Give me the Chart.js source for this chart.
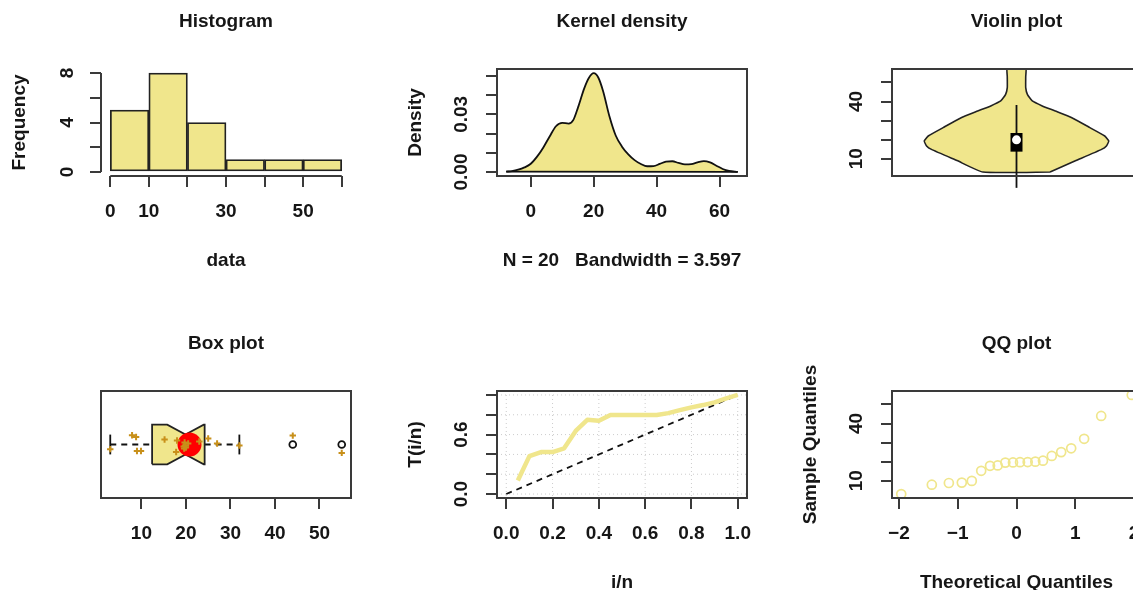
<!DOCTYPE html>
<html>
<head>
<meta charset="utf-8">
<script src="https://cdn.jsdelivr.net/npm/chart.js@4.4.1/dist/chart.umd.min.js"></script>
<style>
  html, body { margin: 0; padding: 0; background: #fff; overflow: hidden; }
  body { width: 1133px; height: 590px; position: relative; }
  canvas { position: absolute; left: 0; top: 0; }
</style>
</head>
<body>
<canvas id="histograma" width="1160" height="590"></canvas>
<canvas id="densidad" width="1160" height="590"></canvas>
<canvas id="violin" width="1160" height="590"></canvas>
<canvas id="cajas" width="1160" height="590"></canvas>
<canvas id="ttt" width="1160" height="590"></canvas>
<canvas id="qq" width="1160" height="590"></canvas>
<script>
// valores
const muestra = [3, 7.9, 8.8, 9, 9.9, 15.2, 17.8, 18, 19.5, 19.6, 19.7, 19.8, 20, 20.5, 23, 25, 27, 32, 44, 55];
const qqTeorico = [-1.96, -1.44, -1.15, -0.93, -0.76, -0.6, -0.45, -0.32, -0.19, -0.06, 0.06, 0.19, 0.32, 0.45, 0.6, 0.76, 0.93, 1.15, 1.44, 1.96];

const histBreaks = [0, 10, 20, 30, 40, 50, 60];
const histCounts = [5, 8, 4, 1, 1, 1];

const densX = [-7.8, -6, -4, -2, 0, 2, 4, 6, 8, 10, 12, 13.5, 15, 17, 18.5, 20, 21.5, 23, 25, 27, 29, 31, 33, 35, 37, 39, 41, 43, 45, 47, 49, 51, 53, 55, 57, 59, 61, 63, 65.8];
const densY = [0.0002, 0.0005, 0.0012, 0.0024, 0.0043, 0.008, 0.0128, 0.0185, 0.0238, 0.0256, 0.0252, 0.027, 0.0335, 0.0435, 0.049, 0.0514, 0.049, 0.042, 0.029, 0.019, 0.0132, 0.0092, 0.0062, 0.0042, 0.003, 0.0031, 0.0042, 0.0054, 0.0056, 0.0047, 0.004, 0.0041, 0.005, 0.0057, 0.005, 0.0033, 0.0016, 0.0006, 0.0001];

// violin: niveles y densidad relativa (1 = ancho maximo)
const violinNiveles = [3, 9, 14.9, 16.7, 19.3, 21.9, 26.3, 31.5, 35, 37.7, 40.3, 43.8, 47.3, 53, 58];
const violinDens = [0.364, 0.645, 0.922, 0.975, 1, 0.957, 0.796, 0.6, 0.421, 0.279, 0.171, 0.118, 0.1, 0.1, 0.1];
const violinCaja = [13.7, 23.5];
const violinMediana = 19.9;
const violinBigote = [-5.3, 38.2];

// boxplot: min, q1, mediana, q3, max
const cincoNum = [3, 12.4, 19.9, 24.2, 32];
const muesca = [15.8, 24.0];
const atipicos = [44, 55];
const media = 20.8;
const jitterY = [0.953, 1.093, 1.076, 0.935, 0.935, 1.05, 0.925, 1.04, 0.98, 0.96, 1.02, 0.99, 0.97, 1.01, 1.03, 1.06, 1.01, 0.99, 1.09, 0.915];

const tttX = [0.05, 0.1, 0.15, 0.2, 0.25, 0.3, 0.35, 0.4, 0.45, 0.5, 0.55, 0.6, 0.65, 0.7, 0.75, 0.8, 0.85, 0.9, 0.95, 1];
const tttY = [0.136, 0.383, 0.424, 0.424, 0.461, 0.637, 0.749, 0.739, 0.797, 0.797, 0.797, 0.797, 0.797, 0.817, 0.847, 0.875, 0.898, 0.925, 0.966, 1];

// ticks y etiquetas
const histXTicks = [0, 10, 20, 30, 40, 50, 60];
const histXLabels = ['0', '10', '', '30', '', '50', ''];
const histYTicks = [0, 2, 4, 6, 8];
const histYLabels = ['0', '', '4', '', '8'];
const densXTicks = [0, 20, 40, 60];
const densXLabels = ['0', '20', '40', '60'];
const densYTicks = [0, 0.01, 0.02, 0.03, 0.04, 0.05];
const densYLabels = ['0.00', '', '', '0.03', '', ''];
const cuantilTicks = [10, 20, 30, 40, 50];
const cuantilLabels = ['10', '', '', '40', ''];
const cajaXTicks = [10, 20, 30, 40, 50];
const cajaXLabels = ['10', '20', '30', '40', '50'];
const tttTicks = [0, 0.2, 0.4, 0.6, 0.8, 1];
const tttXLabels = ['0.0', '0.2', '0.4', '0.6', '0.8', '1.0'];
const tttYLabels = ['0.0', '', '', '0.6', '', ''];
const qqXTicks = [-2, -1, 0, 1, 2];
const qqXLabels = ['\u22122', '\u22121', '0', '1', '2'];

const AMARILLO = '#F0E68C';
const ORO = '#C8901A';
const LINEA = '#3a3a3a';
const TEXTO = '#161616';
const FUENTE = '"Liberation Sans", Arial, sans-serif';

const W = 1160, H = 590, TICK = 11;
const filas = [{top: 69, bottom: 176}, {top: 391, bottom: 498}];
const cols = [{left: 101, right: 351}, {left: 497, right: 747}, {left: 892, right: 1141}];

function padding(c, f, conX, conY) {
    return {
        left: cols[c].left - (conY ? TICK : 0),
        right: W - cols[c].right,
        top: filas[f].top,
        bottom: H - filas[f].bottom - (conX ? TICK : 0)
    };
}

function eje(min, max, ticks, mostrar) {
    return {
        type: 'linear', min, max, display: mostrar, offset: false,
        afterBuildTicks: (s) => { s.ticks = ticks.map(v => ({value: v})); },
        ticks: {display: false},
        grid: {display: true, offset: false, drawOnChartArea: false, drawTicks: true, tickLength: TICK, color: LINEA, lineWidth: 2},
        border: {display: false}
    };
}

function vertical(ctx, txt, x, y) {
    ctx.save();
    ctx.translate(x, y);
    ctx.rotate(-Math.PI / 2);
    ctx.fillText(txt, 0, 0);
    ctx.restore();
}

// ejes, caja y textos al estilo de R
const rEstilo = {
    id: 'rEstilo',
    beforeDatasetsDraw(chart, args, o) {
        if (!o.rejilla) return;
        const {ctx, chartArea: a, scales} = chart;
        ctx.save();
        ctx.strokeStyle = '#cccccc';
        ctx.lineWidth = 1;
        ctx.setLineDash([1, 3]);
        ctx.beginPath();
        o.rejilla.forEach(v => {
            const px = scales.x.getPixelForValue(v), py = scales.y.getPixelForValue(v);
            ctx.moveTo(px, a.top); ctx.lineTo(px, a.bottom);
            ctx.moveTo(a.left, py); ctx.lineTo(a.right, py);
        });
        ctx.stroke();
        ctx.restore();
    },
    afterDraw(chart, args, o) {
        const {ctx, chartArea: a, scales: {x, y}} = chart;
        ctx.save();
        ctx.strokeStyle = LINEA;
        ctx.lineWidth = 2;
        ctx.beginPath();
        if (o.caja) ctx.rect(a.left, a.top, a.right - a.left, a.bottom - a.top);
        if (x.options.display) {
            ctx.moveTo(x.getPixelForValue(x.ticks[0].value), a.bottom);
            ctx.lineTo(x.getPixelForValue(x.ticks[x.ticks.length - 1].value), a.bottom);
        }
        if (y.options.display) {
            ctx.moveTo(a.left, y.getPixelForValue(y.ticks[0].value));
            ctx.lineTo(a.left, y.getPixelForValue(y.ticks[y.ticks.length - 1].value));
        }
        ctx.stroke();

        ctx.fillStyle = TEXTO;
        ctx.textAlign = 'center';
        ctx.textBaseline = 'middle';
        ctx.font = 'bold 19px ' + FUENTE;
        if (o.xEt) o.xEt.v.forEach((v, i) => ctx.fillText(o.xEt.t[i], x.getPixelForValue(v), a.bottom + 36));
        if (o.yEt) o.yEt.v.forEach((v, i) => vertical(ctx, o.yEt.t[i], a.left - (o.yGap || 35), y.getPixelForValue(v)));
        const cx = (a.left + a.right) / 2, cy = (a.top + a.bottom) / 2;
        if (o.titulo) ctx.fillText(o.titulo, cx, a.top - 47);
        if (o.xTitulo) ctx.fillText(o.xTitulo, cx, a.bottom + 84.5);
        if (o.yTitulo) vertical(ctx, o.yTitulo, a.left - 81, cy);
        ctx.restore();
    }
};
Chart.register(rEstilo);

function opciones(pad, scales, r) {
    return {
        responsive: false, animation: false, devicePixelRatio: 1, events: [],
        layout: {padding: pad},
        scales,
        plugins: {legend: {display: false}, tooltip: {enabled: false}, rEstilo: r}
    };
}

function segmento(puntos, ancho, extra) {
    return Object.assign({data: puntos, showLine: true, pointRadius: 0, borderColor: '#111', borderWidth: ancho, fill: false}, extra || {});
}

// ---------------- Histograma
new Chart(document.getElementById('histograma'), {
    type: 'bar',
    data: {
        datasets: [{
            data: histCounts.map((c, i) => ({x: (histBreaks[i] + histBreaks[i + 1]) / 2, y: c})),
            backgroundColor: AMARILLO, borderColor: '#222', borderWidth: 1.8, borderSkipped: false,
            barPercentage: 1, categoryPercentage: 1
        }]
    },
    options: opciones(padding(0, 0, true, true),
        {x: eje(-2.4, 62.4, histXTicks, true), y: eje(-0.32, 8.32, histYTicks, true)},
        {titulo: 'Histogram', xTitulo: 'data', yTitulo: 'Frequency', yGap: 33,
         xEt: {v: histXTicks, t: histXLabels}, yEt: {v: histYTicks, t: histYLabels}})
});

// ---------------- Densidad
new Chart(document.getElementById('densidad'), {
    type: 'scatter',
    data: {
        datasets: [
            segmento([{x: densX[0], y: densY[0]}, {x: densX[densX.length - 1], y: densY[densY.length - 1]}], 1.8),
            segmento(densX.map((x, i) => ({x, y: densY[i]})), 1.8,
                {fill: 'origin', backgroundColor: AMARILLO, cubicInterpolationMode: 'monotone'})
        ]
    },
    options: opciones(padding(1, 0, true, true),
        {x: eje(-10.73, 68.73, densXTicks, true), y: eje(-0.00206, 0.05356, densYTicks, true)},
        {caja: true, titulo: 'Kernel density', xTitulo: 'N = 20   Bandwidth = 3.597', yTitulo: 'Density',
         xEt: {v: densXTicks, t: densXLabels}, yEt: {v: densYTicks, t: densYLabels}})
});

// ---------------- Violin
const violinWex = 0.4;
const ladoDer = violinNiveles.map((v, i) => ({x: 1 + violinWex * violinDens[i], y: v}));
const ladoIzq = violinNiveles.map((v, i) => ({x: 1 - violinWex * violinDens[i], y: v})).reverse();
new Chart(document.getElementById('violin'), {
    type: 'scatter',
    data: {
        datasets: [
            {data: [{x: 1, y: violinMediana}], pointRadius: 4.5, backgroundColor: '#fff', borderWidth: 0},
            segmento([{x: 1, y: violinCaja[0]}, {x: 1, y: violinCaja[1]}], 12, {borderCapStyle: 'butt', borderColor: '#000'}),
            segmento([{x: 1, y: violinBigote[0]}, {x: 1, y: violinBigote[1]}], 1.8, {clip: false}),
            segmento([...ladoDer, ...ladoIzq, ladoDer[0]], 1.6, {fill: 'shape', backgroundColor: AMARILLO, tension: 0.15, borderColor: '#222'})
        ]
    },
    options: opciones(padding(2, 0, false, true),
        {x: eje(0.46, 1.54, [1], false), y: eje(0.92, 57.08, cuantilTicks, true)},
        {caja: true, titulo: 'Violin plot', yEt: {v: cuantilTicks, t: cuantilLabels}})
});

// ---------------- Boxplot con muesca
const [bMin, bQ1, bMed, bQ3, bMax] = cincoNum;
const mitad = 0.2, mitadMuesca = 0.1, grapa = 0.1;
new Chart(document.getElementById('cajas'), {
    type: 'scatter',
    data: {
        datasets: [
            {data: muestra.map((v, i) => ({x: v, y: jitterY[i]})), pointStyle: 'cross', pointRadius: 3.2, borderWidth: 2, borderColor: ORO},
            {data: [{x: media, y: 1}], pointRadius: 12, backgroundColor: '#ff0000', borderWidth: 0},
            {data: atipicos.map(v => ({x: v, y: 1})), pointRadius: 3.4, borderWidth: 1.8, borderColor: '#111', backgroundColor: '#fff'},
            segmento([{x: bMed, y: 1 - mitadMuesca}, {x: bMed, y: 1 + mitadMuesca}], 3),
            segmento([
                {x: bQ1, y: 1 - mitad}, {x: muesca[0], y: 1 - mitad}, {x: bMed, y: 1 - mitadMuesca}, {x: muesca[1], y: 1 - mitad},
                {x: bQ3, y: 1 - mitad}, {x: bQ3, y: 1 + mitad}, {x: muesca[1], y: 1 + mitad}, {x: bMed, y: 1 + mitadMuesca},
                {x: muesca[0], y: 1 + mitad}, {x: bQ1, y: 1 + mitad}, {x: bQ1, y: 1 - mitad}
            ], 1.8, {fill: 'shape', backgroundColor: AMARILLO, borderColor: '#222'}),
            segmento([{x: bMin, y: 1}, {x: bQ1, y: 1}], 1.8, {borderDash: [6, 5]}),
            segmento([{x: bQ3, y: 1}, {x: bMax, y: 1}], 1.8, {borderDash: [6, 5]}),
            segmento([{x: bMin, y: 1 - grapa}, {x: bMin, y: 1 + grapa}], 1.8),
            segmento([{x: bMax, y: 1 - grapa}, {x: bMax, y: 1 + grapa}], 1.8)
        ]
    },
    options: opciones(padding(0, 1, true, false),
        {x: eje(0.92, 57.08, cajaXTicks, true), y: eje(0.46, 1.54, [1], false)},
        {caja: true, titulo: 'Box plot', xEt: {v: cajaXTicks, t: cajaXLabels}})
});

// ---------------- TTT
new Chart(document.getElementById('ttt'), {
    type: 'scatter',
    data: {
        datasets: [
            segmento(tttX.map((x, i) => ({x, y: tttY[i]})), 4.5, {borderColor: AMARILLO, borderJoinStyle: 'round'}),
            segmento([{x: 0, y: 0}, {x: 1, y: 1}], 1.8, {borderDash: [6, 5]})
        ]
    },
    options: opciones(padding(1, 1, true, true),
        {x: eje(-0.04, 1.04, tttTicks, true), y: eje(-0.04, 1.04, tttTicks, true)},
        {caja: true, rejilla: tttTicks, xTitulo: 'i/n', yTitulo: 'T(i/n)',
         xEt: {v: tttTicks, t: tttXLabels}, yEt: {v: tttTicks, t: tttYLabels}})
});

// ---------------- QQ
new Chart(document.getElementById('qq'), {
    type: 'scatter',
    data: {
        datasets: [{
            data: qqTeorico.map((x, i) => ({x, y: muestra[i]})),
            pointRadius: 4.5, borderWidth: 1.7, borderColor: AMARILLO, backgroundColor: 'rgba(0,0,0,0)'
        }]
    },
    options: opciones(padding(2, 1, true, true),
        {x: eje(-2.117, 2.117, qqXTicks, true), y: eje(0.92, 57.08, cuantilTicks, true)},
        {caja: true, titulo: 'QQ plot', xTitulo: 'Theoretical Quantiles', yTitulo: 'Sample Quantiles',
         xEt: {v: qqXTicks, t: qqXLabels}, yEt: {v: cuantilTicks, t: cuantilLabels}})
});
</script>
</body>
</html>
